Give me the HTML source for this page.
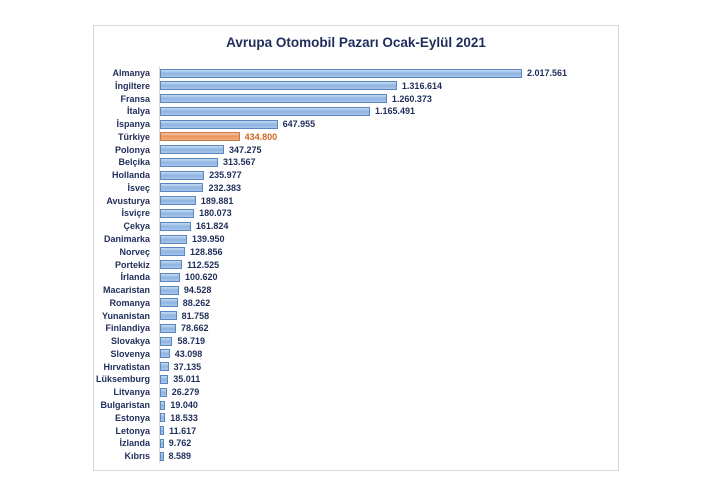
<!DOCTYPE html>
<html><head><meta charset="utf-8"><style>
body{margin:0;background:#fff;width:702px;height:498px;position:relative;font-family:"Liberation Sans",sans-serif;overflow:hidden}
.frame{position:absolute;left:93px;top:25px;width:526px;height:446px;border:1px solid #d9d9d9;box-sizing:border-box}
.t{position:absolute;left:93px;width:526px;top:35px;text-align:center;font-weight:bold;font-size:13.5px;color:#1f2d5a}
.axis{position:absolute;left:159px;top:66px;width:1px;height:397px;background:#d9d9d9}
.l{position:absolute;right:552px;font-size:9px;font-weight:bold;color:#1f2d5a;white-space:nowrap;line-height:12px}
.b{position:absolute;left:160px;height:7px;border:1px solid #5b87c0;background:linear-gradient(#c6daf1,#8fb4e0 50%,#a9c6ea);box-sizing:content-box}
.v{position:absolute;font-size:9px;font-weight:bold;color:#1f2d5a;line-height:12px}
</style></head><body>
<div class="frame"></div>
<div class="t">Avrupa Otomobil Pazarı Ocak-Eylül 2021</div>
<div class="axis"></div>
<div id="c"></div>
<script>
var d=[["Almanya",2017561,"2.017.561"],["İngiltere",1316614,"1.316.614"],["Fransa",1260373,"1.260.373"],["İtalya",1165491,"1.165.491"],["İspanya",647955,"647.955"],["Türkiye",434800,"434.800"],["Polonya",347275,"347.275"],["Belçika",313567,"313.567"],["Hollanda",235977,"235.977"],["İsveç",232383,"232.383"],["Avusturya",189881,"189.881"],["İsviçre",180073,"180.073"],["Çekya",161824,"161.824"],["Danimarka",139950,"139.950"],["Norveç",128856,"128.856"],["Portekiz",112525,"112.525"],["İrlanda",100620,"100.620"],["Macaristan",94528,"94.528"],["Romanya",88262,"88.262"],["Yunanistan",81758,"81.758"],["Finlandiya",78662,"78.662"],["Slovakya",58719,"58.719"],["Slovenya",43098,"43.098"],["Hırvatistan",37135,"37.135"],["Lüksemburg",35011,"35.011"],["Litvanya",26279,"26.279"],["Bulgaristan",19040,"19.040"],["Estonya",18533,"18.533"],["Letonya",11617,"11.617"],["İzlanda",9762,"9.762"],["Kıbrıs",8589,"8.589"]];
var h="";
d.forEach(function(r,i){var y=73+i*12.77;var w=Math.max(1,r[1]/2017561*360);
var tr=i==5;
h+='<div class="l" style="top:'+(y-6)+'px">'+r[0]+'</div>';
h+='<div class="b" style="top:'+(y-4.5)+'px;width:'+w+'px'+(tr?';background:linear-gradient(#f6c6a6,#e9955f 50%,#f0ad80);border-color:#c77a48':'')+'"></div>';
h+='<div class="v" style="top:'+(y-6)+'px;left:'+(160+w+7)+'px'+(tr?';color:#d0651f':'')+'">'+r[2]+'</div>';});
document.getElementById("c").innerHTML=h;
</script>
</body></html>
